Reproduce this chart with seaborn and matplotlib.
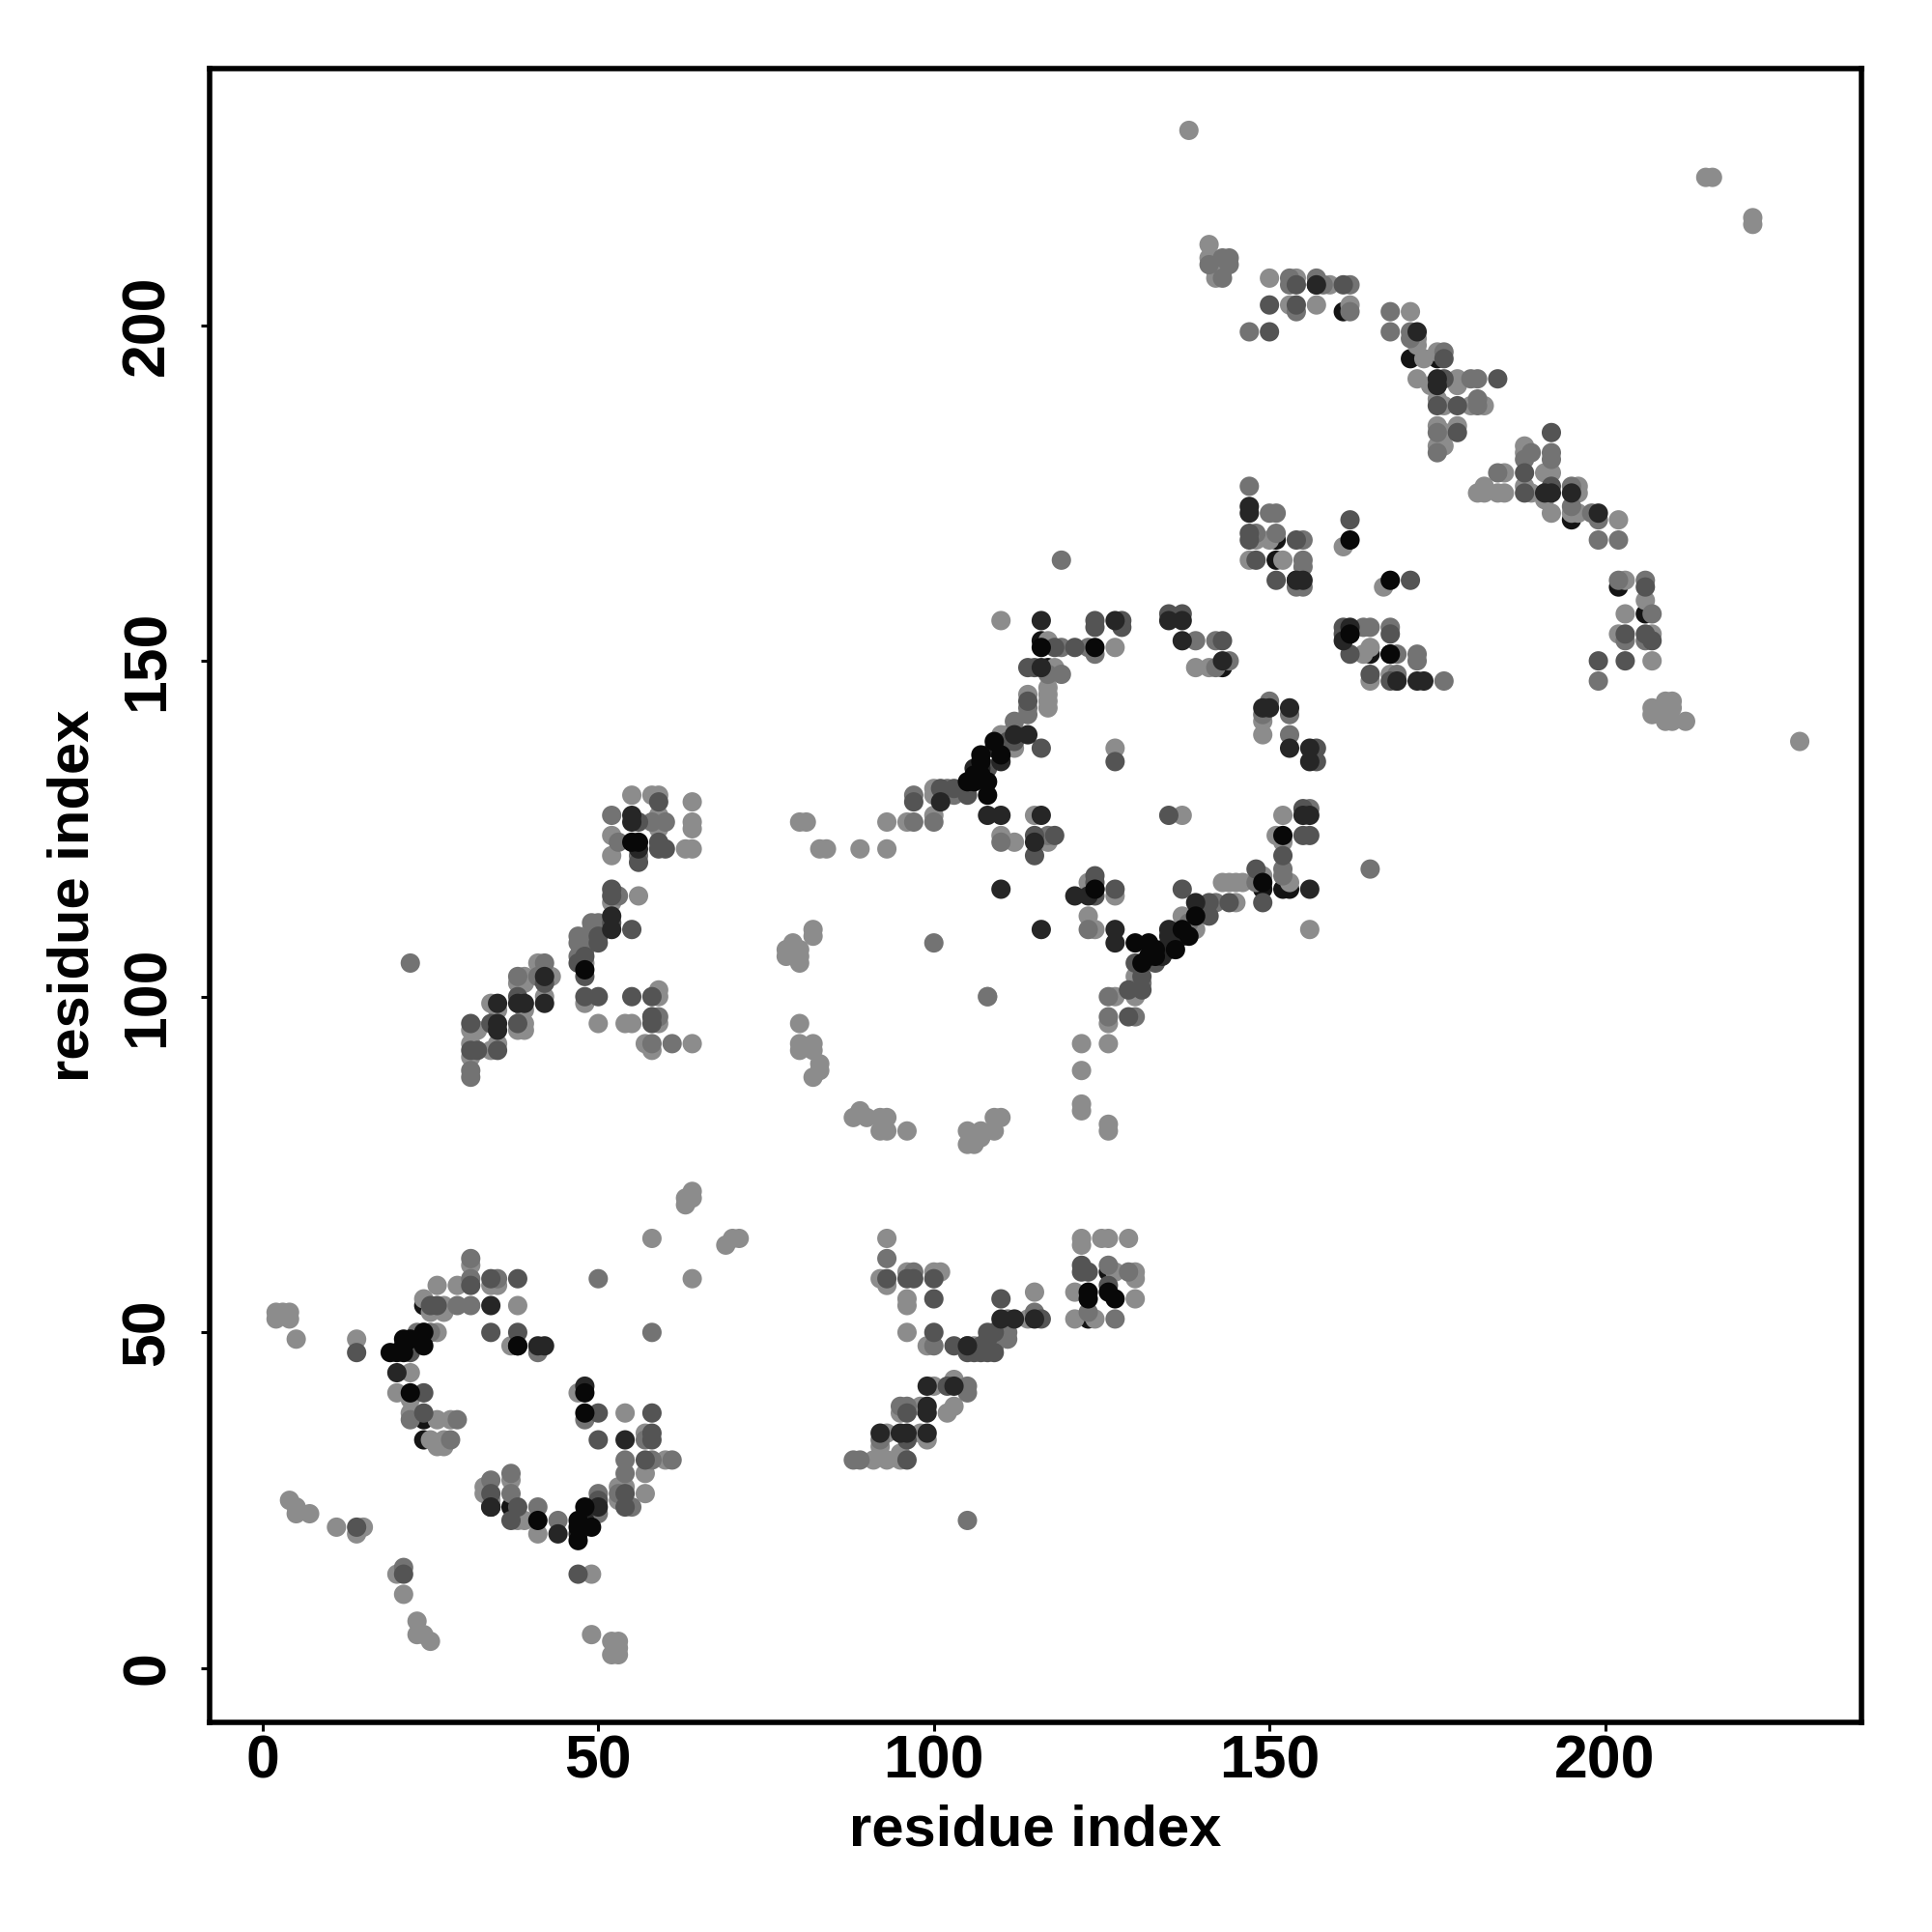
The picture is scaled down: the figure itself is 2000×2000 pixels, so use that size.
import pandas as pd
import seaborn as sns
import matplotlib.pyplot as plt

# contacts, grouped by grey level
# the under list is what shows only as a crescent below lighter dots
under = [(59,126),(126,59),(151,168),(151,165),(116,153),(117,149),(168,151),(123,52),(195,171),
         (171,195),(175,195),(206,157),(157,206),(161,202),(165,151),(202,161),(34,24),(37,24),
         (24,54),(24,37),(24,34),(143,149),(124,116),(149,116),(152,116),(153,116),(154,162),(162,154)]

light = [(2,53),(2,52),(3,53),(4,53),(4,52),(5,49),(14,49),(22,40),(22,38),(26,37),(28,37),(25,34),(27,34),
         (26,33),(27,33),(24,55),(27,54),(27,53),(25,53),(38,54),(26,57),(29,57),(34,57),(35,57),(31,60),
         (64,58),(58,64),(69,63),(70,64),(71,64),(64,71),(63,69),(64,70),(63,70),(37,48),(47,41) ,(54,38),
         (57,35),(60,31),(57,29),(57,26),(53,27),(54,27),(53,25),(38,22),(39,22),(37,28),(33,27),(33,26),(34,25),
         (4,25),(5,24),(5,23),(7,23),(11,21),(14,20),(15,21),(20,14),(21,11),(23,7),(23,5),(24,5),(25,4),
         (49,14),(49,5),(52,4),(53,4),(52,2),(53,3),(53,2),(20,41),(22,44),(41,20),(26,50),
         (91,31),(93,31),(95,31),(92,33),(95,32),(93,35),(98,35),(99,34),(95,38),(98,39),(102,38),(103,39),
         (100,42),(103,43),(99,48),(106,48),(96,50),(114,52),(115,56),(96,55),(96,54),(93,64),(92,58),(93,57),
         (96,59),(100,59),(101,59),(122,64),(122,63),(125,64),(126,64),(129,64),(127,59),(130,59),(130,58),
         (121,56),(130,55),(121,52),(124,52),
         (31,91),(31,93),(31,95),(32,95),(34,92),(35,93),(34,99),(35,98),(38,95),(39,96),(39,95),(39,98),(38,102),
         (39,103),(39,102),(41,105),(43,103),(42,100),(48,108),(48,105),(49,110),(52,114),(56,115),(48,99),(59,100),
         (59,101),(50,96),(54,96),(55,96),(59,96),(57,93),(58,92),(64,93),(55,130),(58,130),(59,130),(64,129),
         (59,127),(59,125),(64,126),(64,125),(52,124),(52,121),(63,122),(64,122),
         (110,156),(117,153),(127,152),(139,149),(141,149),(118,149),(117,146),(117,145),(117,144),(117,143),
         (114,145),(111,139),(110,139),(112,137),(127,137),(100,131),(100,130),(100,127),(93,126),(96,126),(93,122),
         (80,126),(81,126),(83,122),(84,122),(89,122),(110,124),(112,123),(115,127),(117,123),(137,127),(149,141),
         (149,139),(151,124),(152,127),(152,123),(143,117),(144,117),(145,117),(146,117),(149,118),(153,117),
         (123,117),(127,115),(123,112),(124,110),(156,110),(137,112),(139,110),(145,114),(130,103),(127,100),
         (130,100),(126,96),(122,93),(126,93),(122,89),(122,84),(122,83),(126,81),(126,80),
         (78,106),(78,107),(79,108),(80,107),(82,110),(82,109),(80,105),(80,106),(80,96),(80,93),(80,92),(82,93),
         (82,92),(83,90),(83,89),(82,88),(88,82),(89,83),(90,82),(92,82),(93,82),(92,80),(93,80),(96,80),
         (105,80),(105,78),(106,78),(107,80),(107,79),(109,80),(109,82),(110,82),(108,100),
         (148,168),(150,168),(147,165),(152,165),(161,167),(167,161),(164,151),(165,152),(165,147),(168,148),
         (207,150),(207,154),(203,157),(206,159),(203,162),(202,154),(229,138),(212,141),(207,143),(207,142),
         (209,144),(210,144),(209,141),(210,141),(210,143),(209,142),
         (188,182),(188,181),(191,178),(192,178),(185,178),(181,175),(182,176),(182,175),(184,175),(185,175),
         (188,176),(189,175),(191,174),(192,172),(196,176),(196,175),(195,172),(196,172),(202,171),
         (141,212),(141,210),(142,209),(143,208),(142,207),(142,208),(150,207),(154,207),(159,206),(153,203),
         (157,203),(162,203),(171,202),(172,198),(172,197),(173,195),(175,196),(172,192),(174,191),(178,192),
         (178,191),(175,189),(176,188),(180,188),(182,188),(175,185),(178,185),(176,184),(175,182),(176,182),
         (138,229),(215,222),(216,222),(222,216),(222,215)]

medium = [(25,50),(23,50),(29,54),(31,54),(31,58),(35,58),(31,61),(50,58),(58,50),(41,47),(48,37),(57,34),
          (54,31),(58,31),(61,31),(54,29),(53,26),(55,24),(50,26),(50,23),(44,22),(41,24),(37,29),(37,26),
          (34,28),(21,15),(22,37),(29,37),(28,34),(105,22),
          (88,31),(89,31),(92,34),(95,39),(96,39),(105,42),(105,41),(100,48),(109,48),(111,49),(111,50),(109,50),
          (111,52),(115,53),(93,61),(97,59),(126,60),(129,59),(123,53),(127,52),
          (22,105),(31,88),(31,89),(38,103),(42,105),(41,103),(47,109),(47,108),(47,106),(48,107),(49,111),(50,111),
          (49,109),(53,115),(52,127),(58,126),(60,126),(53,123),(56,121),(58,97) ,(59,97),(58,93),(61,93),
          (119,152),(123,152),(124,151),(139,153),(142,153),(142,149),(144,150),(117,148),(119,148),(114,143),(114,142),
          (112,141),(102,131),(103,130),(97,130),(97,126),(100,126),(117,124),(110,123),(150,144),(149,142),(153,142),
          (153,139),(156,128),(152,119),(152,118),(148,117),(142,114),(123,110),(100,108),(138,111),(131,102),
          (126,100),(108,100),(126,97),(130,97),
          (147,176),(150,172),(151,172),(148,169),(151,169),(155,168),(155,165),(155,164),(154,161),(155,161),
          (164,155),(165,155),(168,155),(169,151),(172,151),(172,150),(169,148),(169,147),(176,147),(199,147),
          (207,157),(203,153),(206,153),(202,162),(206,162),(119,165),(165,119),
          (189,181),(188,180),(192,181),(192,180),(184,178),(195,176),(195,173),(198,172),(199,171),(199,168),(202,168),
          (141,209),(143,210),(144,210),(144,209),(143,207),(153,207),(153,206),(157,207),(158,206),(162,206),
          (154,202),(162,202),(147,199),(168,202),(168,199),(171,199),(171,198),(176,196),(180,192),(181,192),
          (181,189),(181,188),(175,184),(175,181)]

dark = [(14,47),(24,50),(34,50),(38,50),(24,41),(24,38),(25,54),(26,54),(31,57),(34,58),(38,58),(50,38),(58,38),
        (50,34),(58,35),(58,34),(57,31),(54,26),(54,24),(50,25),(34,26),(38,24),(37,22),(14,21),(21,14),(47,14),
        (96,31),(22,47),(96,34),(96,38),(103,48),(107,48),(107,47),(105,47),(106,47),(108,47),(109,47),(100,50),
        (108,50),(108,49),(109,50),(110,55),(116,52),(100,55),(93,58),(96,58),(97,58),(100,58),(122,60),(122,59),
        (123,59),(126,57),(102,42),(105,48),
        (31,92),(32,92),(31,96),(35,92),(34,96),(38,100),(38,96),(42,102),(47,105),(48,106),(48,103),(50,109),(50,108),
        (52,116),(52,115),(52,111),(55,110),(48,100),(50,100),(55,100),(58,100),(58,97),(58,96),(59,129),(56,126),(59,123),
        (59,122),(60,122),(56,120),
        (124,156),(124,155),(128,156),(128,155),(135,157),(137,157),(118,152),(121,152),(143,153),(114,149),(115,149),
        (114,144),(112,138),(111,138),(116,137),(127,135),(108,134),(105,131),(105,130),(103,131),(101,131),(97,129),
        (115,124),(118,124),(115,121),(135,127),(157,137),(157,135),(155,128),(155,124),(156,124),(152,121),(148,119),
        (149,114),(124,118),(124,117),(124,115),(127,116),(137,116),(141,114),(141,112),(144,114),(133,105),(130,105),
        (131,103),(131,101),(129,101),(129,97),
        (147,169),(147,168),(148,165),(151,162),(154,168),(162,171),(161,155),(161,154),(168,154),(162,151),(165,148),(168,147),
        (199,150),(203,150),(203,154),(206,154),(207,153),(206,161),(171,162),
        (192,184),(188,178),(188,175),(192,176),(154,206),(161,206),(150,203),(154,203),(150,199),(176,192),(176,195),
        (175,188),(178,188),(178,184),(184,192)]

vdark = [(21,48),(20,44),(34,54),(38,48) ,(41,48),(42,48),(48,42),(44,20),(54,34),(47,20),(48,22),(50,24),(34,24),
         (99,35),(99,42),(92,35),(95,35),(96,35),(99,39),(99,38),(103,42),(110,52),(112,52),(115,52),(105,48),
         (35,95),(35,96),(35,99),(38,99),(39,99),(42,103),(42,99),(52,112),(52,110),(55,127),(55,126),(56,122),
         (115,123),(116,156),(127,156),(135,156),(137,156),(137,153),(143,150),(114,139),(112,139),(116,149),
         (109,137),(110,135),(106,134),(107,134),(101,129),(108,127),(110,127),(116,127),(149,143),(150,143),(153,143),
         (153,137),(156,137),(156,135),(155,127),(156,127),(156,116),(110,116),(121,115),(123,115),(127,110),(127,108),
         (116,110),(135,110),(135,109),(139,114),(137,109),(135,107),(134,107),(134,106),
         (147,173),(147,172),(154,162),(155,162),(161,153),(162,155),(172,147),(173,147),(169,147),
         (191,175),(192,175),(195,175),(199,172),(172,199),(175,192),(175,191),(157,206)]

black = [(19,47),(20,47),(21,47),(21,49),(22,49),(24,48),(24,50),(22,41),(38,48),(48,41),(48,38),(48,24),(49,21),
         (47,22),(47,21),(47,19),(41,22),
         (123,56),(123,55),(126,56),(127,55),
         (48,104),(55,123),(56,123),(116,152),(124,152),(124,116),(109,138),(107,136),(107,135),(110,136),
         (106,133),(107,133),(105,132),(106,132),(108,132),(108,130),(152,124),(149,117),
         (130,108),(132,108),(133,107),(136,107),(133,106),(132,106),(131,105),(138,109),(139,112),(137,110),
         (162,168),(168,162),(162,154),(168,151)]

shades = [0.08, 0.55, 0.45, 0.33, 0.15, 0.03]
layers = [under, light, medium, dark, vdark, black]

tick_vals = [0, 50, 100, 150, 200]

rows = []
for shade, layer in zip(shades, layers):
    for px, py in layer:
        rows.append({"x": px, "y": py, "shade": str(shade)})
df = pd.DataFrame(rows)

sns.set_style("white")
plt.rcParams["font.family"] = ["Liberation Sans", "DejaVu Sans"]
plt.rcParams["font.weight"] = "bold"
plt.rcParams["text.color"] = "black"
plt.rcParams["axes.labelcolor"] = "black"
plt.rcParams["xtick.labelcolor"] = "black"
plt.rcParams["ytick.labelcolor"] = "black"

fig = plt.figure(figsize=(10, 10), dpi=200)
ax = fig.add_axes([0.1085, 0.1085, 0.855, 0.8560])

palette = {str(s): str(s) for s in shades}
sns.scatterplot(data=df, x="x", y="y", hue="shade", palette=palette, s=52, linewidth=0,
                legend=False, ax=ax)

ax.set_xlim(-7.9, 238.2)
ax.set_ylim(-8.07, 238.2)
ax.set_xticks(tick_vals)
ax.set_yticks(tick_vals)
ax.tick_params(axis="both", length=3.3, width=1.1, color="black", labelsize=22.5, bottom=True, left=True)
ax.tick_params(axis="x", pad=1)
ax.tick_params(axis="y", pad=9)
for lab in ax.get_yticklabels():
    lab.set_rotation(90)
    lab.set_va("center")
ax.set_xlabel("residue index", fontsize=21.5, fontweight="bold", color="black", labelpad=5)
ax.set_ylabel("residue index", fontsize=21.5, fontweight="bold", color="black", labelpad=7.5)
for sp in ax.spines.values():
    sp.set_visible(True)
    sp.set_color("black")
    sp.set_linewidth(2)

fig.savefig("out.png", dpi=200)
plt.close()
